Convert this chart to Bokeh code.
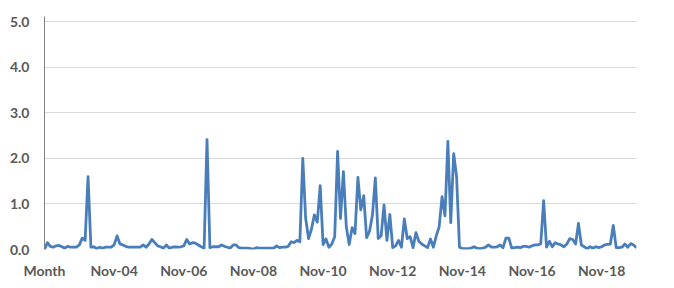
from bokeh.plotting import figure
from bokeh.models import Range1d, FixedTicker, NumeralTickFormatter, ColumnDataSource
from bokeh.embed import file_html
from bokeh.resources import INLINE

# ---- data ----
month_names = ["Jan", "Feb", "Mar", "Apr", "May", "Jun",
               "Jul", "Aug", "Sep", "Oct", "Nov", "Dec"]
first_year, first_month = 2002, 12   # Dec-02 follows the "Month" header cell
label_every = 24

values = [
    0.00, 0.15, 0.07, 0.05, 0.08, 0.09, 0.06, 0.03, 0.07, 0.05,   # 0-9
    0.05, 0.05, 0.10, 0.25, 0.20, 1.60, 0.05, 0.06, 0.02, 0.05,   # 10-19
    0.03, 0.05, 0.05, 0.05, 0.10, 0.30, 0.12, 0.10, 0.07, 0.05,   # 20-29
    0.05, 0.05, 0.05, 0.05, 0.10, 0.05, 0.12, 0.22, 0.15, 0.08,   # 30-39
    0.06, 0.03, 0.10, 0.03, 0.05, 0.06, 0.05, 0.06, 0.08, 0.22,   # 40-49
    0.12, 0.15, 0.14, 0.10, 0.06, 0.03, 2.41, 0.04, 0.06, 0.06,   # 50-59
    0.06, 0.10, 0.07, 0.05, 0.03, 0.10, 0.10, 0.04, 0.03, 0.03,   # 60-69
    0.03, 0.02, 0.01, 0.04, 0.03, 0.03, 0.03, 0.03, 0.03, 0.03,   # 70-79
    0.08, 0.04, 0.05, 0.05, 0.07, 0.17, 0.15, 0.20, 0.17, 2.00,   # 80-89
    0.68, 0.24, 0.45, 0.76, 0.60, 1.40, 0.11, 0.23, 0.05, 0.12,   # 90-99
    0.28, 2.15, 0.68, 1.71, 0.50, 0.11, 0.48, 0.35, 1.58, 0.87,   # 100-109
    1.18, 0.26, 0.40, 0.75, 1.57, 0.24, 0.30, 0.98, 0.20, 0.77,   # 110-119
    0.04, 0.08, 0.20, 0.05, 0.67, 0.24, 0.28, 0.04, 0.37, 0.18,   # 120-129
    0.12, 0.08, 0.04, 0.23, 0.05, 0.30, 0.50, 1.16, 0.74, 2.37,   # 130-139
    0.59, 2.10, 1.60, 0.05, 0.02, 0.02, 0.02, 0.03, 0.06, 0.03,   # 140-149
    0.02, 0.03, 0.05, 0.10, 0.05, 0.05, 0.06, 0.10, 0.04, 0.25,   # 150-159
    0.25, 0.03, 0.04, 0.05, 0.04, 0.07, 0.07, 0.05, 0.08, 0.10,   # 160-169
    0.10, 0.12, 1.07, 0.05, 0.18, 0.06, 0.15, 0.12, 0.10, 0.06,   # 170-179
    0.12, 0.24, 0.22, 0.12, 0.57, 0.10, 0.06, 0.02, 0.06, 0.03,   # 180-189
    0.06, 0.04, 0.06, 0.10, 0.11, 0.12, 0.53, 0.04, 0.04, 0.05,   # 190-199
    0.12, 0.05, 0.13, 0.10, 0.04,                                 # 200-204
]

y_ticks = [0, 1, 2, 3, 4, 5]

# category labels: header cell then monthly labels
categories = ["Month"]
y, m = first_year, first_month
for _ in range(len(values) - 1):
    categories.append(f"{month_names[m - 1]}-{y % 100:02d}")
    m += 1
    if m > 12:
        m, y = 1, y + 1

x = list(range(len(values)))
src = ColumnDataSource(dict(x=x, y=values))

p = figure(width=670, height=285, output_backend="svg", toolbar_location=None,
           x_range=Range1d(0, len(values) - 1), y_range=Range1d(0, 5.11))
p.min_border_left = 44
p.min_border_right = 34
p.min_border_top = 16
p.min_border_bottom = 36
p.outline_line_color = None
p.background_fill_color = "white"
p.border_fill_color = "white"

p.line("x", "y", source=src, line_color="#4A7EBB", line_width=2.8,
       line_join="round")

font = "Lato"
label_color = "#595959"

# x axis
xa = p.xaxis[0]
tick_idx = list(range(0, len(values), label_every))
xa.ticker = FixedTicker(ticks=tick_idx)
xa.major_label_overrides = {i: categories[i] for i in tick_idx}
xa.axis_line_color = None
xa.major_tick_line_color = None
xa.minor_tick_line_color = None
xa.major_tick_out = 0
xa.major_tick_in = 0
xa.minor_tick_out = 0
xa.major_label_text_font = font
xa.major_label_text_font_style = "bold"
xa.major_label_text_font_size = "14px"
xa.major_label_text_color = label_color
xa.major_label_standoff = 12

# y axis
ya = p.yaxis[0]
ya.ticker = FixedTicker(ticks=y_ticks)
ya.formatter = NumeralTickFormatter(format="0.0")
ya.axis_line_color = "#808080"
ya.axis_line_width = 1
ya.major_tick_line_color = None
ya.minor_tick_line_color = None
ya.major_tick_out = 0
ya.major_tick_in = 0
ya.minor_tick_out = 0
ya.major_label_text_font = font
ya.major_label_text_font_style = "bold"
ya.major_label_text_font_size = "14px"
ya.major_label_text_color = label_color
ya.major_label_standoff = 15

p.xgrid.grid_line_color = None
p.ygrid.grid_line_color = "#D9D9D9"
p.ygrid.grid_line_width = 1
p.ygrid.ticker = FixedTicker(ticks=y_ticks)

open("out.html", "w").write(file_html(p, INLINE))
